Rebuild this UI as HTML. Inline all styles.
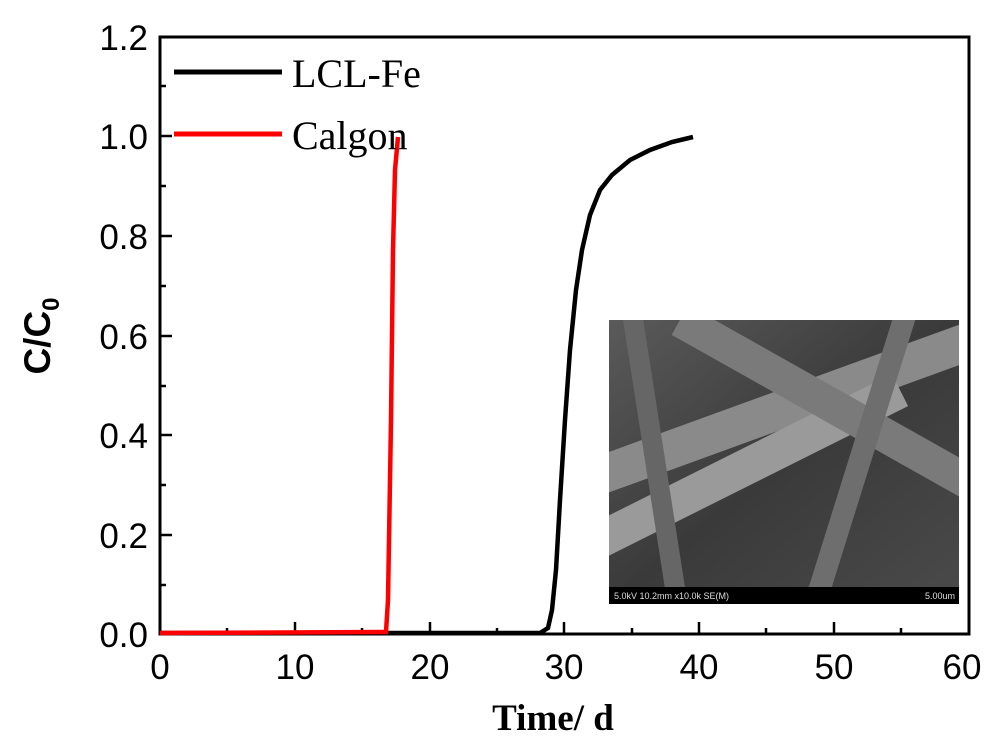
<!DOCTYPE html>
<html><head><style>body{margin:0;background:#fff}</style></head><body>
<svg width="1000" height="751" viewBox="0 0 1000 751" xmlns="http://www.w3.org/2000/svg" font-family="Liberation Sans, Arial, sans-serif">
<defs>
<linearGradient id="g" x1="0" y1="0" x2="1" y2="1"><stop offset="0" stop-color="#5a5a5a"/><stop offset="0.5" stop-color="#3a3a3a"/><stop offset="1" stop-color="#4a4a4a"/></linearGradient>
<clipPath id="c"><rect x="609" y="320" width="350" height="284"/></clipPath>
</defs>
<rect x="609" y="320" width="350" height="284" fill="url(#g)"/>
<g fill="none" clip-path="url(#c)">
<path d="M560 490 L1000 330" stroke="#8a8a8a" stroke-width="38"/>
<path d="M560 560 L900 390" stroke="#9a9a9a" stroke-width="36"/>
<path d="M680 320 L1000 500" stroke="#7a7a7a" stroke-width="34"/>
<path d="M630 300 L680 620" stroke="#666" stroke-width="20"/>
<path d="M810 620 L910 300" stroke="#6e6e6e" stroke-width="22"/>
</g>
<rect x="609" y="587" width="350" height="17" fill="#000"/>
<text x="614" y="599" font-size="9" fill="#ddd">5.0kV 10.2mm x10.0k SE(M)</text>
<text x="955" y="599" font-size="9" fill="#ddd" text-anchor="end">5.00um</text>
<rect x="160" y="37" width="809" height="597" fill="none" stroke="#000" stroke-width="3"/>
<g stroke="#000" stroke-width="2.5">
<line x1="160" y1="634" x2="160" y2="622"/><line x1="295" y1="634" x2="295" y2="622"/><line x1="430" y1="634" x2="430" y2="622"/><line x1="564" y1="634" x2="564" y2="622"/><line x1="699" y1="634" x2="699" y2="622"/><line x1="834" y1="634" x2="834" y2="622"/>
<line x1="227" y1="634" x2="227" y2="628"/><line x1="362" y1="634" x2="362" y2="628"/><line x1="497" y1="634" x2="497" y2="628"/><line x1="632" y1="634" x2="632" y2="628"/><line x1="766" y1="634" x2="766" y2="628"/><line x1="901" y1="634" x2="901" y2="628"/>
<line x1="160" y1="535" x2="172" y2="535"/><line x1="160" y1="435" x2="172" y2="435"/><line x1="160" y1="336" x2="172" y2="336"/><line x1="160" y1="236" x2="172" y2="236"/><line x1="160" y1="136" x2="172" y2="136"/>
<line x1="160" y1="585" x2="166" y2="585"/><line x1="160" y1="485" x2="166" y2="485"/><line x1="160" y1="386" x2="166" y2="386"/><line x1="160" y1="286" x2="166" y2="286"/><line x1="160" y1="186" x2="166" y2="186"/><line x1="160" y1="86" x2="166" y2="86"/>
</g>
<g font-size="35" text-anchor="middle">
<text x="160" y="679">0</text><text x="295" y="679">10</text><text x="430" y="679">20</text><text x="564" y="679">30</text><text x="699" y="679">40</text><text x="834" y="679">50</text><text x="962" y="679">60</text>
</g>
<g font-size="35" text-anchor="end">
<text x="148" y="647">0.0</text><text x="148" y="548">0.2</text><text x="148" y="448">0.4</text><text x="148" y="349">0.6</text><text x="148" y="249">0.8</text><text x="148" y="149">1.0</text><text x="148" y="50">1.2</text>
</g>
<text x="553" y="730" font-size="37" font-weight="bold" font-family="Liberation Serif, serif" text-anchor="middle">Time/ d</text>
<text transform="translate(50,336) rotate(-90)" font-size="37" font-weight="bold" text-anchor="middle">C/C<tspan font-size="24" dy="9">0</tspan></text>
<path d="M160 633 L540 633 L548 628 L552 610 L556 570 L560 500 L565 420 L570 350 L576 290 L582 250 L590 215 L600 190 L612 175 L630 160 L650 150 L672 142 L693 137" fill="none" stroke="#000" stroke-width="4.5"/>
<path d="M160 633 L386 632 L388 600 L391 420 L393 250 L395 170 L398 137" fill="none" stroke="#f00" stroke-width="4.5"/>
<line x1="174" y1="72" x2="282" y2="72" stroke="#000" stroke-width="5"/>
<line x1="174" y1="134" x2="282" y2="134" stroke="#f00" stroke-width="5"/>
<text x="292" y="87" font-size="40" font-family="Liberation Serif, serif">LCL-Fe</text>
<text x="292" y="149" font-size="40" font-family="Liberation Serif, serif">Calgon</text>
</svg>
</body></html>
